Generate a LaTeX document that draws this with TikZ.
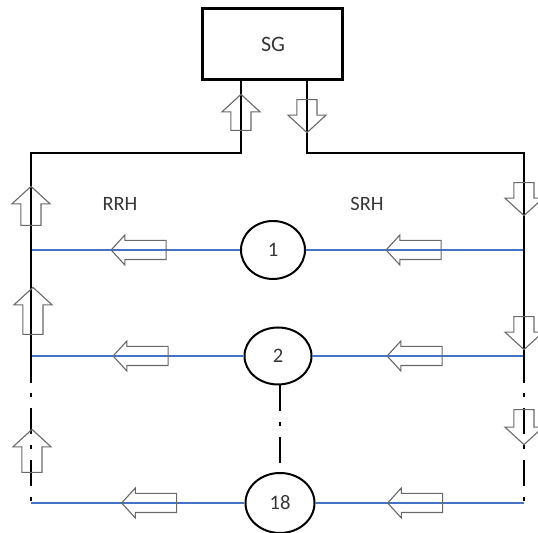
\documentclass[tikz,border=0pt]{standalone}
\usepackage{fontspec}
\setmainfont{Carlito}
\usetikzlibrary{shapes.geometric,shapes.arrows}
\definecolor{loopBlue}{RGB}{68,114,196}
\definecolor{loopGray}{RGB}{105,105,105}
\definecolor{loopText}{RGB}{55,55,55}
\tikzset{
  plant/.style={draw=black, line width=1.5pt, minimum width=70pt, minimum height=35.5pt,
    font=\fontsize{11}{13}\selectfont, text=loopText},
  house/.style={draw=black, line width=1pt, ellipse, minimum width=32pt, minimum height=29pt,
    inner sep=0pt, font=\fontsize{10.3}{12}\selectfont, text=loopText},
  tag/.style={font=\fontsize{10.2}{12}\selectfont, text=loopText},
  pipe/.style={draw=black, line width=1.4pt},
  broken/.style={pipe, dash pattern=on 13pt off 5.5pt on 2pt off 5.5pt},
  branch/.style={draw=loopBlue, line width=0.9pt},
  hollow/.style={single arrow, draw=loopGray, line width=0.55pt, inner xsep=0pt, single arrow tip angle=95},
  vflow/.style={hollow, inner ysep=4.75pt, single arrow head extend=4.5pt},
  hflow/.style={hollow, inner ysep=4.5pt, single arrow head extend=2.75pt, minimum height=27.5pt, rotate=180}
}
\begin{document}
\begin{tikzpicture}[x=0.5pt,y=-0.5pt]
  \useasboundingbox (0,0) rectangle (538,533);
  \node[plant] (sg) at (273,44.5) {SG};
  \node[house] (c1) at (273,250) {1};
  \node[house, minimum width=33.5pt, minimum height=28.5pt] (c2) at (278,356) {2};
  \node[house, minimum width=34.5pt, minimum height=30pt] (c18) at (280,503) {18};
  \node[tag] (rrh) at (120,204) {RRH};
  \node[tag] (srh) at (367,204) {SRH};
  \coordinate (rr) at (241,153);
  \coordinate (sr) at (307,153);
  \coordinate (lc) at (31,153);
  \coordinate (rc) at (524,153);
  \coordinate (lcb) at (31,383);
  \coordinate (rcb) at (524,383);
  \coordinate (l1) at (31,250);
  \coordinate (l2) at (31,356);
  \coordinate (l18) at (31,503);
  \coordinate (r1) at (524,250);
  \coordinate (r2) at (524,356);
  \coordinate (r18) at (524,503);
  \draw[branch] (l1) -- (c1) -- (r1);
  \draw[branch] (l2) -- (c2) -- (r2);
  \draw[branch] (l18) -- (c18) -- (r18);
  \draw[pipe] (sg.south -| rr) -- (rr) -- (lc) -- (lcb);
  \draw[pipe] (sg.south -| sr) -- (sr) -- (rc) -- (rcb);
  \draw[broken, dash phase=13.5pt] (lcb) -- (l18);
  \draw[broken, dash phase=13.5pt] (rcb) -- (r18);
  \draw[broken] (c2.south -| c18) -- (c18.north);
  \node[vflow, rotate=90, minimum height=18pt] (ru) at (241,117) {};
  \node[vflow, rotate=-90, minimum height=16.5pt] (sd) at (307,111.5) {};
  \node[vflow, rotate=90, minimum height=19.5pt] (lu1) at (31,210.5) {};
  \node[vflow, rotate=90, minimum height=23.5pt] (lu2) at (33,315.5) {};
  \node[vflow, rotate=90, minimum height=21.5pt] (lu3) at (32,455.5) {};
  \node[vflow, rotate=-90, minimum height=16.5pt] (rd1) at (524,194.5) {};
  \node[vflow, rotate=-90, minimum height=16.5pt] (rd2) at (524,328.5) {};
  \node[vflow, rotate=-90, minimum height=17.5pt] (rd3) at (524,422.5) {};
  \node[hflow] (la1) at (143,250) {};
  \node[hflow] (ra1) at (418,250) {};
  \node[hflow] (la2) at (145,356) {};
  \node[hflow] (ra2) at (419,356) {};
  \node[hflow] (la18) at (153.5,503) {};
  \node[hflow] (ra18) at (419.5,503) {};
\end{tikzpicture}
\end{document}
